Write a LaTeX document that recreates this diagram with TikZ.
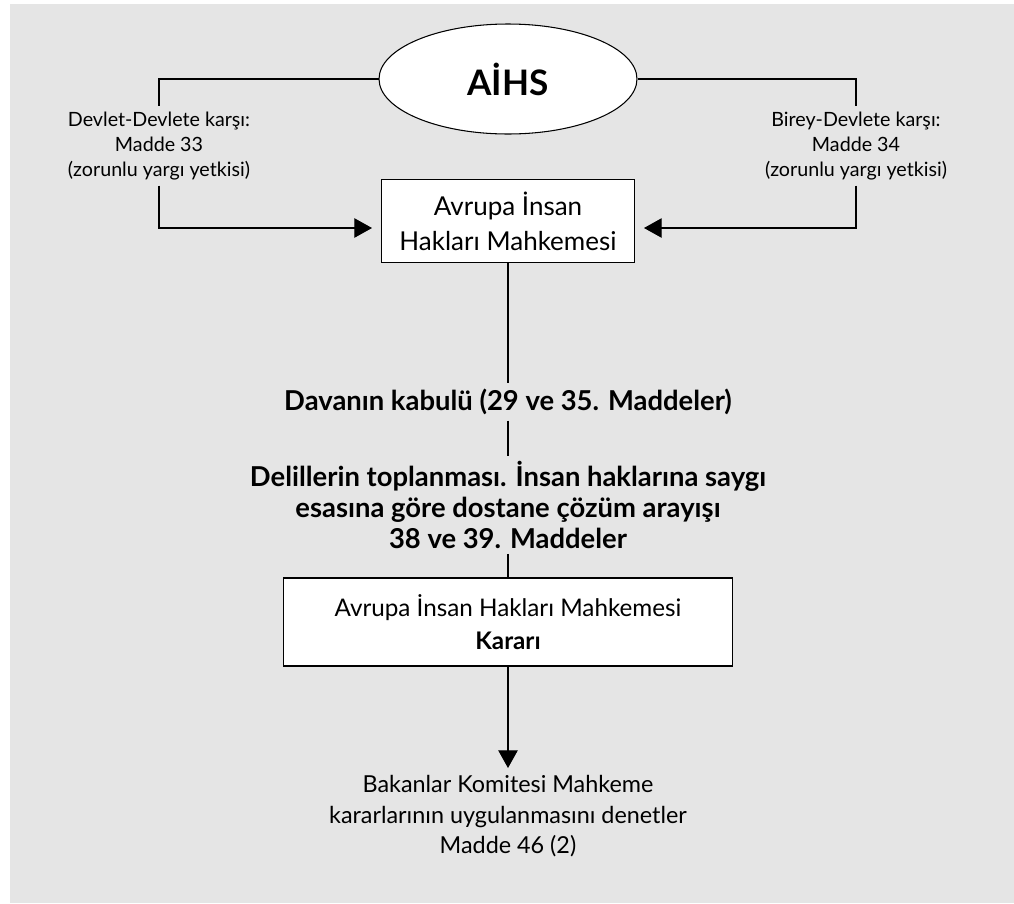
\documentclass[tikz,border=0pt]{standalone}
\usepackage{fontspec}
\setmainfont{Lato}
\usetikzlibrary{shapes.geometric,arrows.meta}
\definecolor{bggray}{HTML}{E5E5E5}

\begin{document}
\begin{tikzpicture}[x=0.02cm,y=-0.02cm,
  kutu/.style={draw,fill=white,line width=0.6pt,align=center,inner sep=0pt},
  yan/.style={align=center,inner sep=3pt,font=\fontsize{11.2}{14.2}\selectfont},
  kalin/.style={align=center,inner sep=3pt,font=\fontsize{15.6}{17.4}\selectfont\bfseries},
  alt/.style={align=center,inner sep=0pt,font=\fontsize{13.3}{17.4}\selectfont},
  cizgi/.style={line width=0.6pt},
  ok/.style={cizgi,-{Triangle[length=10pt,width=11pt]}}]
  \useasboundingbox (0,0) rectangle (1014,903);
  \fill[bggray] (10,4) rectangle (1014,903);

  \node[draw,fill=white,ellipse,line width=0.6pt,minimum width=5.16cm,minimum height=2.2cm,
        inner sep=0pt,font=\fontsize{20}{22}\selectfont\bfseries] (aihs) at (508,79) {AİHS};
  \node[yan] (devlet) at (159,146) {Devlet-Devlete karşı:\\Madde 33\\(zorunlu yargı yetkisi)};
  \node[yan] (birey) at (856,146) {Birey-Devlete karşı:\\Madde 34\\(zorunlu yargı yetkisi)};
  \node[kutu,minimum width=5.06cm,minimum height=1.66cm,font=\fontsize{14.8}{19.8}\selectfont]
        (mahk1) at (508,221) {Avrupa İnsan\\Hakları Mahkemesi};
  \coordinate (g1) at (372,228);
  \coordinate (g2) at (644,228);

  \node[kalin] (kabul) at (508,402) {Davanın kabulü (29 ve 35. Maddeler)};
  \node[kalin] (delil) at (508,505) {Delillerin toplanması. İnsan haklarına saygı\\
        esasına göre dostane çözüm arayışı\\38 ve 39. Maddeler};
  \node[kutu,minimum width=9cm,minimum height=1.76cm,font=\fontsize{13.8}{19}\selectfont]
        (mahk2) at (508,622) {Avrupa İnsan Hakları Mahkemesi\\\textbf{Kararı}};
  \coordinate (g3) at (508,768);
  \node[alt,anchor=north] (bakan) at (508,775) {Bakanlar Komitesi Mahkeme\\
        kararlarının uygulanmasını denetler\\Madde 46 (2)};

  \draw[cizgi] (aihs.west) -| (devlet.north);
  \draw[cizgi] (aihs.east) -| (birey.north);
  \draw[ok] (devlet.south) |- (g1);
  \draw[ok] (birey.south) |- (g2);
  \draw[cizgi] (mahk1.south) -- (kabul.north);
  \draw[cizgi] (kabul.south) -- (delil.north);
  \draw[cizgi] (delil.south) -- (mahk2.north);
  \draw[ok] (mahk2.south) -- (g3);
\end{tikzpicture}
\end{document}
